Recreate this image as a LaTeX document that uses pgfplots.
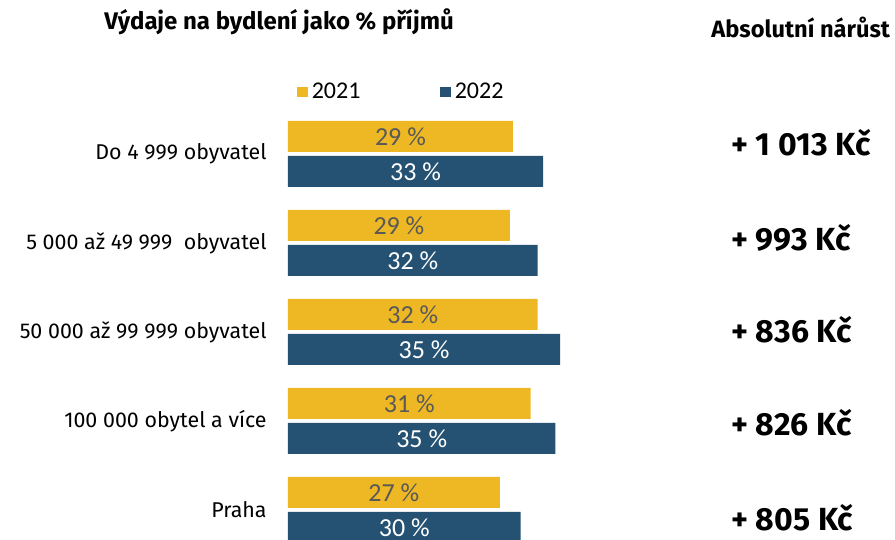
\documentclass[border=0pt]{standalone}
\usepackage{fontspec}
\setmainfont{Fira Sans}
\newfontfamily\calibri{Carlito}
\usepackage{pgfplots}
\pgfplotsset{compat=1.18}
\definecolor{cyellow}{RGB}{237,184,35}
\definecolor{cblue}{RGB}{37,82,115}
\definecolor{cgray}{RGB}{89,89,89}
\begin{document}
\begin{tikzpicture}
\path[use as bounding box] (0,0) rectangle (447.5pt,270pt);
\begin{axis}[
  at={(144pt,-7.25pt)}, anchor=south west,
  scale only axis, width=154.6pt, height=222.5pt,
  xmin=0, xmax=40, ymin=-0.5, ymax=4.5,
  axis line style={draw=none},
  xtick=\empty,
  major tick length=0pt,
  clip=false,
  ytick={0,1,2,3,4},
  yticklabels={Praha,100 000 obytel a více,50 000 až 99 999 obyvatel,5 000 až 49 999~ obyvatel,Do 4 999 obyvatel},
  yticklabel style={anchor=east, inner sep=0pt, xshift=-10.5pt, font=\fontsize{10.7}{12}\selectfont},
  /pgf/number format/assume math mode=true,
  point meta=x,
  visualization depends on=rawx \as \rawx,
  nodes near coords={\pgfmathprintnumber[fixed,precision=0]{\pgfplotspointmeta}~\%},
  every node near coord/.append style={font=\calibri\fontsize{13}{14}\selectfont, anchor=center, xshift={-0.5*\rawx*3.865pt}},
  legend columns=2,
  legend style={at={(0.029,1.039)}, anchor=west, draw=none, fill=none, inner sep=0pt, font=\calibri\fontsize{12}{13}\selectfont, /tikz/every even column/.append style={column sep=38pt}},
  legend image code/.code={\fill[#1] (0pt,-2.6pt) rectangle (5.2pt,2.6pt);},
]
\addplot[xbar, bar width=15.5pt, bar shift=8.75pt, fill=cyellow, draw=none, every node near coord/.append style={text=cgray, yshift=8.75pt}]
  coordinates {(29.1,4) (28.7,3) (32.3,2) (31.4,1) (27.4,0)};
\addplot[xbar, bar width=15.5pt, bar shift=-8.75pt, fill=cblue, draw=none, every node near coord/.append style={text=white, yshift=-8.75pt}]
  coordinates {(33.0,4) (32.3,3) (35.2,2) (34.6,1) (30.1,0)};
\legend{2021,2022}
\end{axis}
\node[anchor=west, font=\bfseries\fontsize{12}{14}\selectfont, inner sep=0pt] at (52pt,259pt) {Výdaje na bydlení jako \% příjmů};
\node[anchor=west, font=\bfseries\fontsize{11.8}{13}\selectfont, inner sep=0pt] at (355.5pt,256.5pt) {Absolutní nárůst};
\begin{scope}[every node/.style={anchor=west, font=\bfseries\fontsize{16}{18}\selectfont, inner sep=0pt}]
\node at (365.5pt,198.5pt) {+ 1 013 Kč};
\node at (365.5pt,151pt) {+ 993 Kč};
\node at (365.5pt,105pt) {+ 836 Kč};
\node at (365.5pt,58.5pt) {+ 826 Kč};
\node at (365.5pt,11pt) {+ 805 Kč};
\end{scope}
\end{tikzpicture}
\end{document}
